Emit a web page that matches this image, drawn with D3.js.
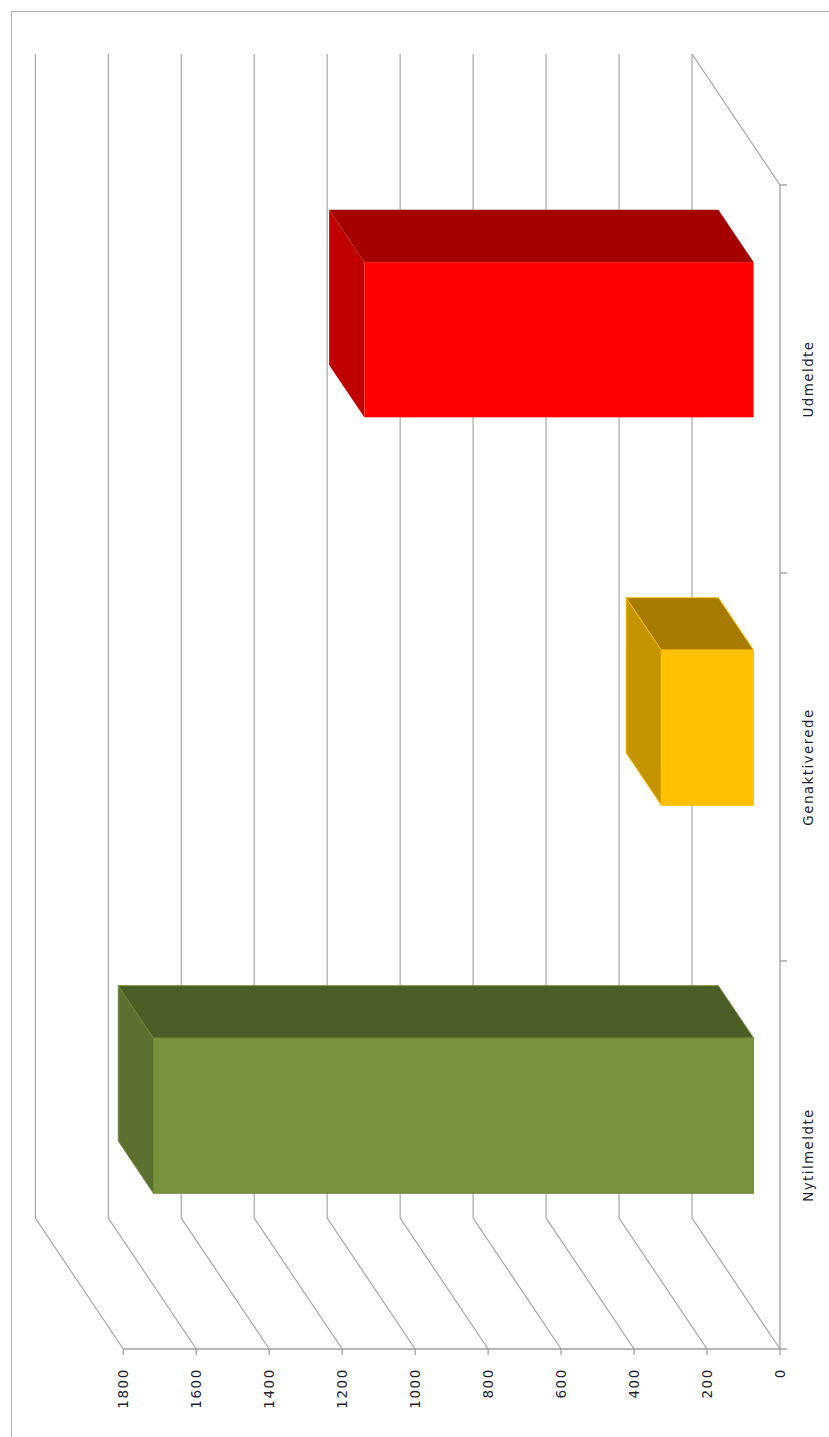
<!DOCTYPE html>
<html>
<head>
<meta charset="utf-8">
<script src="https://cdn.jsdelivr.net/npm/d3@7"></script>
<style>
  html, body { margin: 0; padding: 0; background: #fff; }
  svg { display: block; }
  text { font-family: "DejaVu Sans", Verdana, sans-serif; fill: #1e1e30; }
</style>
</head>
<body>
<script>
// ---- data ----
const categories = ["Nytilmeldte", "Genaktiverede", "Udmeldte"];
const values = [1645, 253, 1067];
const valueTicks = [0, 200, 400, 600, 800, 1000, 1200, 1400, 1600, 1800];
const valueTickLabels = ["0", "200", "400", "600", "800", "1000", "1200", "1400", "1600", "1800"];

// ---- styles ----
const faceColors = [
  { front: "#77933c", top: "#5c7131", side: "#4b5e28", stroke: "#6d8836" },
  { front: "#ffc000", top: "#c49400", side: "#a67c00", stroke: "#ffc000" },
  { front: "#ff0000", top: "#c00000", side: "#a50000", stroke: "none" }
];

const W = 829, H = 1437;
const svg = d3.select("body").append("svg").attr("width", W).attr("height", H);
svg.append("rect").attr("width", W).attr("height", H).attr("fill", "#fff");

// chart-area border
svg.append("rect").attr("x", 11.5).attr("y", 11.5).attr("width", 900).attr("height", 1500)
  .attr("fill", "none").attr("stroke", "#b4b4b4").attr("stroke-width", 1.2);

// chart is drawn rotated: values run right-to-left, categories bottom-to-top
const x = d3.scaleLinear().domain([0, 1800]).range([780, 123.3]);
const y = d3.scaleBand().domain(categories).range([1349, 185]).paddingInner(0.6).paddingOuter(0.3);
const yTop = 185, yBot = 1349;
const DX = 88, DY = 131;            // full depth offset (front -> back)
const f1 = 0.3, f2 = 0.7;           // bar depth range
const gridColor = "#9e9e9e";

const g = svg.append("g");

// back wall gridlines + side wall diagonals
valueTicks.forEach(v => {
  const xf = x(v), xb = x(v) - DX;
  g.append("path")
    .attr("d", `M${xb},${yTop - DY}L${xb},${yBot - DY}L${xf},${yBot}`)
    .attr("fill", "none").attr("stroke", gridColor).attr("stroke-width", 1.1);
});
// floor far edge
g.append("line").attr("x1", x(0) - DX).attr("y1", yTop - DY).attr("x2", x(0)).attr("y2", yTop)
  .attr("stroke", gridColor).attr("stroke-width", 1.1);

// category axis line (front edge of floor) and ticks
g.append("line").attr("x1", x(0)).attr("x2", x(0)).attr("y1", yTop).attr("y2", yBot)
  .attr("stroke", gridColor).attr("stroke-width", 1.3);
const step = y.step();
const boundaries = d3.range(categories.length + 1).map(i => yBot - i * (yBot - yTop) / categories.length);
boundaries.forEach(b => {
  g.append("line").attr("x1", x(0)).attr("x2", x(0) + 7).attr("y1", b).attr("y2", b)
    .attr("stroke", gridColor).attr("stroke-width", 1.3);
});

// value axis line and ticks
g.append("line").attr("x1", x(1800)).attr("x2", x(0)).attr("y1", yBot).attr("y2", yBot)
  .attr("stroke", gridColor).attr("stroke-width", 1.3);
valueTicks.forEach(v => {
  g.append("line").attr("x1", x(v)).attr("x2", x(v)).attr("y1", yBot).attr("y2", yBot + 6)
    .attr("stroke", gridColor).attr("stroke-width", 1.3);
});

// value labels
valueTicks.forEach((v, i) => {
  g.append("text")
    .attr("transform", `translate(${x(v)},1368) rotate(-90)`)
    .attr("text-anchor", "end")
    .attr("dy", "0.36em")
    .attr("font-size", 13.5)
    .attr("letter-spacing", 1.6)
    .text(valueTickLabels[i]);
});

// category labels
categories.forEach(c => {
  g.append("text")
    .attr("transform", `translate(808,${y(c) + y.bandwidth() / 2 + 39.3 * 0}) rotate(-90)`)
    .attr("text-anchor", "middle")
    .attr("dy", "0.36em")
    .attr("font-size", 13.5)
    .attr("letter-spacing", 1.4)
    .text(c);
});

// bars
const bars = svg.append("g");
categories.forEach((c, i) => {
  const col = faceColors[i];
  const ox = -f1 * DX, oy = -f1 * DY;
  const ddx = -(f2 - f1) * DX, ddy = -(f2 - f1) * DY;
  const x0 = x(0) + ox, xv = x(values[i]) + ox;
  const y1 = y(c) + oy, y2 = y(c) + y.bandwidth() + oy;
  const sw = col.stroke === "none" ? 0 : 0.9;
  // top face (value end)
  bars.append("path")
    .attr("d", `M${xv},${y1}L${xv},${y2}L${xv + ddx},${y2 + ddy}L${xv + ddx},${y1 + ddy}Z`)
    .attr("fill", col.top).attr("stroke", col.stroke).attr("stroke-width", sw);
  // side face
  bars.append("path")
    .attr("d", `M${xv},${y1}L${x0},${y1}L${x0 + ddx},${y1 + ddy}L${xv + ddx},${y1 + ddy}Z`)
    .attr("fill", col.side).attr("stroke", col.stroke).attr("stroke-width", sw);
  // front face
  bars.append("rect")
    .attr("x", xv).attr("y", y1).attr("width", x0 - xv).attr("height", y2 - y1)
    .attr("fill", col.front).attr("stroke", col.stroke).attr("stroke-width", sw);
});
</script>
</body>
</html>
